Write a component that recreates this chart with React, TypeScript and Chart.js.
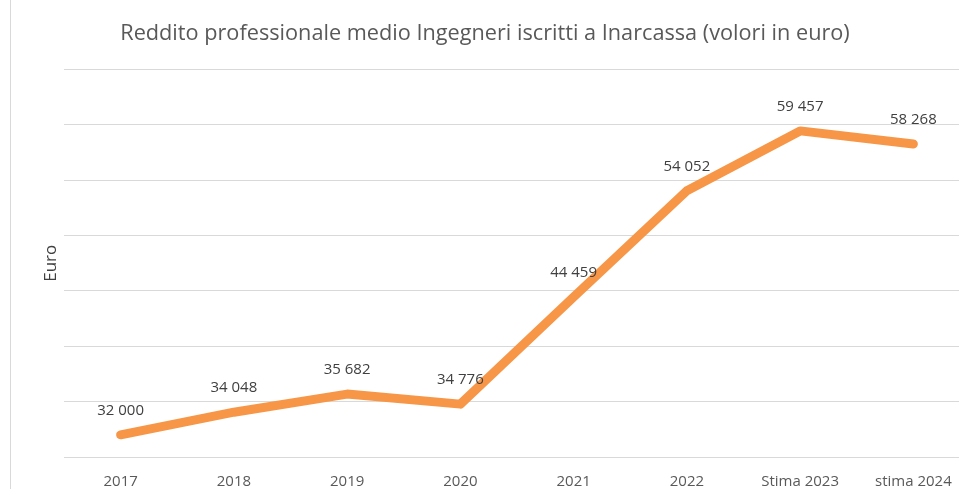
import React, { useEffect, useRef } from "react";
import { Chart, registerables } from "chart.js";

Chart.register(...registerables);

const categories = ["2017", "2018", "2019", "2020", "2021", "2022", "Stima 2023", "stima 2024"];
const values = [32000, 34048, 35682, 34776, 44459, 54052, 59457, 58268];
const valueLabels = ["32 000", "34 048", "35 682", "34 776", "44 459", "54 052", "59 457", "58 268"];
const yMin = 30000;
const yMax = 65000;
const yStep = 5000;

const FONT = "'Open Sans', 'Noto Sans', sans-serif";

const extrasPlugin = {
  id: "extras",
  afterDatasetsDraw(chart: any) {
    const ctx = chart.ctx;
    const meta = chart.getDatasetMeta(0);
    ctx.save();
    ctx.fillStyle = "#404040";
    ctx.font = `15px ${FONT}`;
    ctx.textAlign = "center";
    ctx.textBaseline = "middle";
    meta.data.forEach((pt: any, i: number) => {
      ctx.fillText(valueLabels[i], pt.x, pt.y - 24);
    });
    ctx.restore();
  },
  beforeDraw(chart: any) {
    const ctx = chart.ctx;
    ctx.save();
    ctx.strokeStyle = "#d9d9d9";
    ctx.lineWidth = 1;
    ctx.beginPath();
    ctx.moveTo(10.5, 0);
    ctx.lineTo(10.5, chart.height);
    ctx.stroke();
    ctx.restore();
  },
};

export default function App() {
  const ref = useRef<HTMLCanvasElement>(null);
  useEffect(() => {
    if (!ref.current) return;
    const chart = new Chart(ref.current, {
      type: "line",
      data: {
        labels: categories,
        datasets: [
          {
            data: values,
            borderColor: "#F79646",
            backgroundColor: "#F79646",
            borderWidth: 9,
            borderCapStyle: "round",
            borderJoinStyle: "round",
            pointRadius: 0,
            tension: 0,
          },
        ],
      },
      options: {
        responsive: false,
        animation: false,
        layout: { padding: { left: 0, right: 0, top: 0, bottom: 0 } },
        plugins: {
          legend: { display: false },
          tooltip: { enabled: false },
          title: {
            display: true,
            text: "Reddito professionale medio Ingegneri iscritti a Inarcassa (volori in euro)",
            color: "#595959",
            font: { family: FONT, size: 21.7, weight: "normal" },
            padding: { top: 21, bottom: 22.5 },
          },
        },
        scales: {
          x: {
            offset: true,
            grid: { display: false, drawTicks: false },
            border: { display: false },
            ticks: {
              color: "#595959",
              font: { family: FONT, size: 15 },
              padding: 16,
              maxRotation: 0,
              autoSkip: false,
            },
            afterFit(scale: any) {
              scale.height = 32;
            },
          },
          y: {
            min: yMin,
            max: yMax,
            ticks: { display: false, stepSize: yStep },
            grid: { color: "#d9d9d9", drawTicks: false },
            border: { display: false },
            title: {
              display: true,
              text: "Euro",
              color: "#404040",
              font: { family: FONT, size: 17 },
              padding: { top: 41, bottom: 0 },
            },
            afterFit(scale: any) {
              scale.width = 64;
            },
          },
        },
      },
      plugins: [extrasPlugin],
    });
    return () => chart.destroy();
  }, []);
  return (
    <div style={{ position: "fixed", left: 0, top: 0, width: 959, height: 489, overflow: "hidden", background: "#fff" }}>
      <canvas ref={ref} width={970} height={489} style={{ display: "block" }} />
    </div>
  );
}
